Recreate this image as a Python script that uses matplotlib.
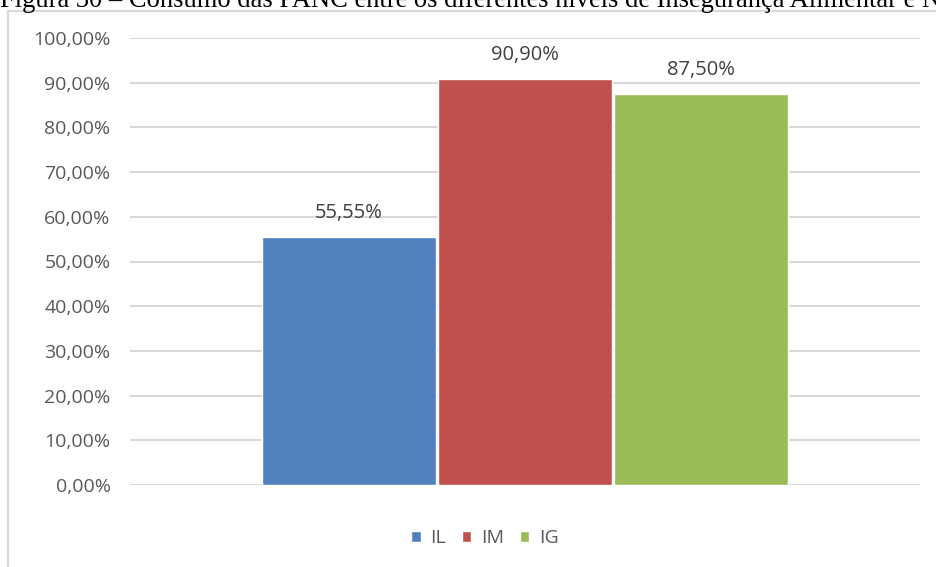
import matplotlib
matplotlib.use("Agg")
import matplotlib.pyplot as plt
from matplotlib.patches import Rectangle

plt.rcParams["font.family"] = ["Open Sans", "DejaVu Sans"]

series = ["IL", "IM", "IG"]
values = [55.55, 90.90, 87.50]
labels = ["55,55%", "90,90%", "87,50%"]
colors = ["#4F81BD", "#C0504D", "#9BBB59"]
yticks = [0, 10, 20, 30, 40, 50, 60, 70, 80, 90, 100]
ytick_labels = ["0,00%", "10,00%", "20,00%", "30,00%", "40,00%", "50,00%",
                "60,00%", "70,00%", "80,00%", "90,00%", "100,00%"]

W, H = 937, 567
fig = plt.figure(figsize=(W / 100, H / 100), dpi=100)

# chart frame (drawn underneath everything)
frame = Rectangle((8 / W, -0.1), 1.2, 1.1 - 11 / H, transform=fig.transFigure,
                  facecolor="white", edgecolor="#D9D9D9", linewidth=1.5, zorder=-5)
fig.patches.append(frame)

# caption of the figure, cut off at the top edge of the crop (as in the source)
fig.text(0.0, 1 - 7 / H, "Figura 30 \u2013 Consumo das PANC entre os diferentes n\u00edveis de Inseguran\u00e7a Alimentar e Nutricional",
         fontfamily="Liberation Serif", fontsize=19.1, color="#000000", va="baseline", ha="left")

ax = fig.add_axes([130 / W, 1 - 485 / H, 790 / W, (485 - 38) / H])
ax.set_zorder(2)
ax.patch.set_alpha(0)

positions = [-1.0, 0.0, 1.0]
for x, v, lab, c, s in zip(positions, values, labels, colors, series):
    ax.bar(x, v, width=0.985, color=c, edgecolor="white", linewidth=1, label=s, zorder=3)
    ax.text(x, v + 3.0, lab, ha="center", va="bottom", fontsize=14.5, color="#404040", zorder=4)

ax.set_xlim(-2.24, 2.24)
ax.set_ylim(0, 100)
ax.set_yticks(yticks)
ax.set_yticklabels(ytick_labels, fontsize=14, color="#595959")
ax.set_xticks([])
ax.tick_params(axis="y", length=0, pad=14)
ax.grid(axis="y", color="#D9D9D9", linewidth=1.5, zorder=0)
ax.set_axisbelow(True)
for sp in ax.spines.values():
    sp.set_visible(False)

leg = fig.legend(loc="center", bbox_to_anchor=(485 / W, 1 - 538 / H), ncol=3, frameon=False,
                 fontsize=14, handlelength=0.5, handleheight=0.5, handletextpad=0.5,
                 columnspacing=0.8, labelcolor="#595959")

fig.savefig("out.png", dpi=100)
